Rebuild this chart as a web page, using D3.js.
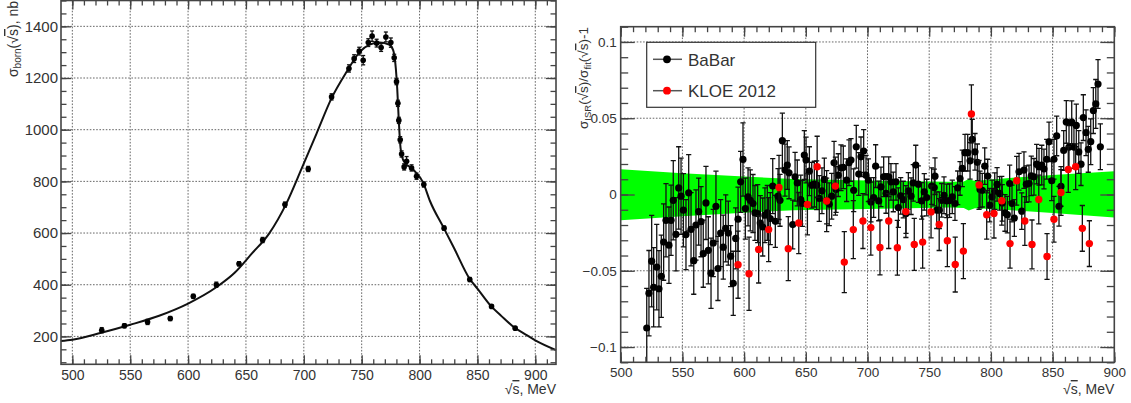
<!DOCTYPE html>
<html lang="en">
<head>
<meta charset="utf-8">
<title>Born cross section and ratio to fit</title>
<script src="https://cdn.jsdelivr.net/npm/d3@7"></script>
<style>
body { margin: 0; background: #fff; }
text { font-family: "Liberation Sans", Arial, Helvetica, sans-serif; fill: #333; }
</style>
</head>
<body>
<script>
// ---- left panel: sigma_born points [E MeV, sigma nb, error]
var bornPoints = [
  [525.4, 224, 10], [545.0, 241, 8], [565.0, 256, 10], [584.6, 269, 8], [604.5, 355, 8],
  [624.4, 400, 10], [644.0, 481, 8], [664.4, 573, 10], [683.7, 710, 10], [703.8, 848, 10],
  [724.0, 1127, 12], [739.0, 1237, 14], [743.5, 1275, 15], [747.9, 1304, 15], [751.3, 1269, 18],
  [755.7, 1337, 15], [759.0, 1362, 20], [762.9, 1335, 15], [766.8, 1318, 15], [770.9, 1359, 19],
  [775.2, 1337, 18], [778.1, 1278, 14], [780.1, 1186, 12], [781.3, 1102, 12], [782.1, 1036, 12],
  [783.3, 961, 12], [784.5, 906, 12], [786.7, 856, 12], [788.8, 878, 18], [793.1, 852, 12],
  [797.4, 820, 12], [803.7, 788, 10], [821.2, 619, 8], [843.4, 420, 8], [862.2, 316, 6],
  [882.6, 232, 6]
];
var fitE = [490, 500, 525, 550, 575, 600, 625, 640, 655, 670, 685, 698, 711, 724, 737, 748.4,
  756.9, 765.5, 773.7, 777.2, 779.5, 780.7, 782.1, 783.6, 786.4, 794.5, 803.1, 809, 821, 830,
  843, 850, 862, 870, 882.6, 890, 900, 918];
var fitSigma = [182, 187, 214, 245, 280, 327, 392, 445, 520, 598, 715, 848, 985, 1122, 1224, 1301,
  1329, 1337, 1329, 1308, 1237, 1160, 1032, 929, 878, 846, 795, 724, 619, 540,
  425, 385, 316, 282, 232, 212, 185, 147];

// ---- right panel: sigma_ISR/sigma_fit - 1, [E MeV, value, error]
var babar = [
  [521.1,-0.0875,0.026],[522.9,-0.0647,0.028],[525.1,-0.0437,0.030],[526.7,-0.0608,0.026],[529.2,-0.0476,0.028],
  [531.0,-0.0618,0.025],[532.9,-0.0536,0.027],[534.8,-0.0312,0.025],[536.7,-0.0169,0.024],[539.1,-0.0332,0.025],
  [540.8,-0.0169,0.023],[542.6,-0.0038,0.026],[544.8,-0.0261,0.024],[547.0,0.0043,0.027],[548.9,-0.0011,0.025],
  [550.8,-0.0103,0.024],[552.9,-0.0263,0.023],[555.1,0.0011,0.025],[557.0,-0.0228,0.024],[559.2,-0.0434,0.022],
  [561.0,-0.0200,0.023],[563.2,-0.0112,0.022],[565.1,-0.0178,0.023],[566.9,-0.0388,0.022],[569.1,-0.0055,0.024],
  [571.0,-0.0366,0.022],[573.2,-0.0516,0.023],[575.0,-0.0318,0.022],[577.2,-0.0077,0.023],[578.8,-0.0485,0.021],
  [581.0,-0.0253,0.022],[583.1,-0.0345,0.021],[585.1,-0.0222,0.022],[587.2,-0.0253,0.021],[589.1,-0.0404,0.020],
  [591.2,-0.0582,0.021],[593.2,-0.0288,0.020],[595.1,-0.0162,0.021],[597.2,0.0083,0.020],[599.1,0.0230,0.024],
  [601.0,-0.0092,0.020],[603.2,-0.0016,0.019],[605.0,-0.0038,0.020],[607.2,-0.0059,0.019],[608.8,-0.0121,0.018],
  [611.0,-0.0125,0.019],[613.1,-0.0187,0.018],[615.1,-0.0213,0.019],[616.9,-0.0136,0.018],[618.8,-0.0121,0.018],
  [621.2,-0.0158,0.017],[623.2,0.0055,0.018],[625.3,-0.0176,0.017],[627.5,-0.0011,0.018],[629.1,-0.0038,0.017],
  [631.0,0.0353,0.018],[633.1,0.0160,0.017],[635.0,0.0193,0.016],[636.4,0.0142,0.017],[639.4,-0.0197,0.016],
  [641.3,0.0116,0.016],[643.1,0.0076,0.015],[645.9,-0.0033,0.016],[647.2,-0.0059,0.015],[648.8,0.0259,0.016],
  [650.2,0.0226,0.015],[652.9,0.0153,0.016],[654.8,0.0061,0.015],[656.9,0.0068,0.015],[658.8,0.0061,0.016],
  [660.9,-0.0026,0.015],[663.1,0.0024,0.015],[665.0,0.0099,0.014],[666.9,-0.0042,0.015],[669.0,-0.0064,0.014],
  [671.0,-0.0011,0.015],[672.9,0.0208,0.014],[674.5,0.0033,0.015],[676.3,0.0127,0.014],[678.5,0.0175,0.015],
  [680.4,0.0178,0.014],[683.1,0.0094,0.014],[685.0,0.0208,0.015],[686.6,0.0226,0.014],[688.8,0.0028,0.014],
  [690.9,0.0313,0.014],[692.9,0.0134,0.014],[694.7,0.0247,0.013],[696.9,0.0285,0.014],[698.8,0.0127,0.013],
  [700.7,0.0094,0.014],[702.8,-0.0049,0.013],[705.0,-0.0020,0.013],[706.6,0.0186,0.014],[709.1,-0.0042,0.013],
  [710.9,0.0050,0.013],[713.1,0.0116,0.013],[715.0,0.0007,0.013],[717.2,0.0116,0.013],[719.0,0.0083,0.012],
  [720.9,0.0017,0.013],[723.1,0.0083,0.012],[725.0,-0.0086,0.013],[726.9,-0.0009,0.012],[729.0,-0.0033,0.012],
  [731.2,-0.0125,0.013],[733.1,0.0024,0.012],[735.3,-0.0011,0.012],[737.1,0.0076,0.012],[739.1,0.0193,0.013],
  [741.2,0.0068,0.012],[743.9,-0.0042,0.012],[746.0,0.0017,0.012],[748.0,-0.0020,0.012],[752.0,0.0055,0.012],
  [754.1,0.0046,0.012],[754.7,0.0120,0.012],[756.1,-0.0103,0.012],[758.2,-0.0103,0.012],[760.1,-0.0038,0.011],
  [762.0,-0.0005,0.012],[764.2,-0.0042,0.011],[766.5,-0.0040,0.011],[768.7,-0.0016,0.011],[770.9,-0.0059,0.011],
  [773.1,0.0044,0.011],[775.0,0.0105,0.011],[776.8,0.0171,0.012],[779.0,0.0274,0.012],[781.2,0.0274,0.012],
  [783.1,0.0221,0.012],[784.9,0.0362,0.013],[787.1,0.0280,0.012],[789.0,0.0211,0.012],[791.2,0.0033,0.012],
  [793.0,0.0028,0.011],[795.0,0.0186,0.012],[797.4,0.0121,0.011],[799.0,-0.0070,0.011],[800.9,-0.0016,0.011],
  [803.1,0.0022,0.012],[805.0,0.0066,0.011],[807.1,0.0007,0.011],[809.2,-0.0055,0.012],[811.4,-0.0121,0.012],
  [813.3,-0.0132,0.012],[815.2,0.0072,0.012],[817.1,-0.0059,0.012],[819.0,-0.0154,0.012],[822.8,0.0149,0.012],
  [825.0,-0.0109,0.012],[826.8,0.0160,0.012],[828.7,0.0068,0.012],[830.9,0.0072,0.012],[832.7,0.0122,0.013],
  [834.9,0.0116,0.012],[837.1,0.0199,0.013],[839.0,0.0182,0.012],[841.2,0.0193,0.013],[843.0,0.0167,0.013],
  [845.2,0.0231,0.013],[847.1,0.0345,0.013],[849.3,0.0090,0.013],[851.1,0.0231,0.013],[853.3,0.0384,0.013],
  [855.2,-0.0077,0.013],[856.8,0.0053,0.013],[859.0,0.0289,0.013],[861.1,0.0476,0.014],[863.3,0.0311,0.014],
  [865.5,0.0474,0.014],[867.3,0.0311,0.014],[869.2,0.0453,0.014],[871.2,0.0279,0.014],[873.0,0.0199,0.014],
  [874.9,0.0504,0.015],[877.1,0.0405,0.015],[878.9,0.0296,0.015],[880.9,0.0346,0.015],[883.0,0.0550,0.015],
  [885.0,0.0594,0.016],[886.8,0.0724,0.016],[888.7,0.0313,0.015]
];
var kloe = [
  [595.1,-0.0460,0.022],[604.0,-0.0520,0.024],[611.8,-0.0360,0.022],[619.9,-0.0230,0.021],[628.3,0.0046,0.021],
  [635.8,-0.0355,0.021],[644.3,-0.0187,0.020],[651.3,-0.0065,0.020],[659.2,0.0182,0.020],[666.9,-0.0043,0.020],
  [674.0,0.0055,0.019],[681.2,-0.0443,0.020],[688.5,-0.0230,0.019],[696.3,-0.0174,0.018],[702.7,-0.0217,0.018],
  [710.1,-0.0347,0.018],[717.2,-0.0174,0.018],[724.2,-0.0349,0.018],[731.1,-0.0112,0.017],[737.9,-0.0327,0.017],
  [744.7,-0.0312,0.017],[751.5,-0.0114,0.017],[758.1,-0.0197,0.017],[764.7,-0.0303,0.017],[771.1,-0.0459,0.018],
  [777.7,-0.0371,0.018],[784.2,0.0528,0.019],[790.4,0.0063,0.016],[796.6,-0.0133,0.016],[802.5,-0.0125,0.016],
  [808.8,-0.0041,0.016],[815.5,-0.0322,0.016],[820.9,0.0090,0.016],[827.5,-0.0174,0.016],[833.3,-0.0327,0.016],
  [838.8,-0.0033,0.016],[845.5,-0.0406,0.015],[851.1,-0.0162,0.015],[856.8,0.0013,0.015],[862.7,0.0164,0.015],
  [868.7,0.0182,0.015],[874.1,-0.0222,0.015],[879.8,-0.0322,0.015]
];
// fit uncertainty band
var bandE  = [500, 550, 600, 640, 700, 766, 778, 782, 787, 800, 820, 850, 900];
var bandHi = [0.0165, 0.0140, 0.0118, 0.0102, 0.0092, 0.0083, 0.0085, 0.0101, 0.0088, 0.0098, 0.0112, 0.0128, 0.0153];
var bandLo = [-0.0169, -0.0143, -0.0120, -0.0103, -0.0095, -0.0085, -0.0088, -0.0105, -0.0090, -0.0095, -0.0105, -0.0122, -0.0151];

var leftXTicks = [500, 550, 600, 650, 700, 750, 800, 850, 900];
var leftYTicks = [200, 400, 600, 800, 1000, 1200, 1400];
var rightXTicks = [500, 550, 600, 650, 700, 750, 800, 850, 900];
var rightYTicks = [-0.1, -0.05, 0, 0.05, 0.1];
var rightYLabels = ["\u22120.1", "\u22120.05", "0", "0.05", "0.1"];
var legendNames = ["BaBar", "KLOE 2012"];
var legendColors = ["#000", "#ff0000"];

var width = 1131, height = 403;
var svg = d3.select("body").append("svg")
    .attr("width", width)
    .attr("height", height);

// scales
var xL = d3.scaleLinear().domain([490.2, 917.9]).range([61, 556]);
var yL = d3.scaleLinear().domain([92, 1500]).range([364.3, 0.5]);
var xR = d3.scaleLinear().domain([500, 900]).range([620.7, 1114.3]);
var yR = d3.scaleLinear().domain([-0.11, 0.11]).range([362.3, 26.7]);

function drawGrid(x, y, xt, yt) {
    var g = svg.append("g").attr("stroke", "#666").attr("stroke-dasharray", "1.6,1.6").attr("stroke-width", 1);
    var xr = x.range(), yr = y.range();
    g.selectAll(".vx").data(xt.filter(function (d) { return x(d) > xr[0] + 2 && x(d) < xr[1] - 2; }))
        .enter().append("line")
        .attr("x1", function (d) { return x(d); }).attr("x2", function (d) { return x(d); })
        .attr("y1", yr[0]).attr("y2", yr[1]);
    g.selectAll(".hy").data(yt.filter(function (d) { return y(d) < yr[0] - 2 && y(d) > yr[1] + 2; }))
        .enter().append("line")
        .attr("y1", function (d) { return y(d); }).attr("y2", function (d) { return y(d); })
        .attr("x1", xr[0]).attr("x2", xr[1]);
}

function axisGroup(axis, tx, ty, fontSize) {
    var g = svg.append("g").attr("transform", "translate(" + tx + "," + ty + ")")
        .call(axis);
    g.select(".domain").remove();
    g.attr("color", "#444").attr("font-size", fontSize);
    g.selectAll("line").attr("stroke-width", 1.3);
    return g;
}

function drawAxes(x, y, o) {
    var xr = x.range(), yr = y.range();
    // bottom
    axisGroup(d3.axisBottom(x).tickValues(o.xMinor).tickSize(-o.xMinLen).tickFormat(""), 0, yr[0]);
    axisGroup(d3.axisBottom(x).tickValues(o.xMajor).tickSize(-o.xMajLen).tickPadding(o.xPad)
        .tickFormat(d3.format("d")), 0, yr[0], o.font);
    // top
    axisGroup(d3.axisTop(x).tickValues(o.xMinor).tickSize(-o.xMinLen).tickFormat(""), 0, yr[1]);
    axisGroup(d3.axisTop(x).tickValues(o.xMajor).tickSize(-o.xMajLen).tickFormat(""), 0, yr[1]);
    // left
    axisGroup(d3.axisLeft(y).tickValues(o.yMinor).tickSize(-o.yMinLen).tickFormat(""), xr[0], 0);
    axisGroup(d3.axisLeft(y).tickValues(o.yMajor).tickSize(-o.yMajLen).tickPadding(o.yPad)
        .tickFormat(function (d, i) { return o.yLabels[i]; }), xr[0], 0, o.yFont);
    // right
    axisGroup(d3.axisRight(y).tickValues(o.yMinor).tickSize(-o.yMinLen).tickFormat(""), xr[1], 0);
    axisGroup(d3.axisRight(y).tickValues(o.yMajor).tickSize(-o.yMajLen).tickFormat(""), xr[1], 0);
    // frame
    svg.append("rect")
        .attr("x", xr[0]).attr("y", yr[1])
        .attr("width", xr[1] - xr[0]).attr("height", yr[0] - yr[1])
        .attr("fill", "none").attr("stroke", "#444").attr("stroke-width", 1.6);
}

function errorBars(g, data, x, y, cap, width) {
    var eb = g.append("g").attr("stroke", "#111").attr("stroke-width", width);
    eb.selectAll(".v").data(data).enter().append("line")
        .attr("x1", function (d) { return x(d[0]); }).attr("x2", function (d) { return x(d[0]); })
        .attr("y1", function (d) { return y(d[1] - d[2]); }).attr("y2", function (d) { return y(d[1] + d[2]); });
    [1, -1].forEach(function (s) {
        eb.selectAll(".c" + s).data(data).enter().append("line")
            .attr("x1", function (d) { return x(d[0]) - cap; }).attr("x2", function (d) { return x(d[0]) + cap; })
            .attr("y1", function (d) { return y(d[1] + s * d[2]); }).attr("y2", function (d) { return y(d[1] + s * d[2]); });
    });
}

// ================= left panel =================
drawGrid(xL, yL, leftXTicks, leftYTicks);

var fitLine = d3.line()
    .x(function (d) { return xL(d[0]); })
    .y(function (d) { return yL(d[1]); })
    .curve(d3.curveMonotoneX);
svg.append("path")
    .datum(fitE.map(function (e, i) { return [e, fitSigma[i]]; }))
    .attr("d", fitLine)
    .attr("fill", "none")
    .attr("stroke", "#111")
    .attr("stroke-width", 2);

var gL = svg.append("g");
errorBars(gL, bornPoints, xL, yL, 2, 1.3);
gL.selectAll("circle").data(bornPoints).enter().append("circle")
    .attr("cx", function (d) { return xL(d[0]); })
    .attr("cy", function (d) { return yL(d[1]); })
    .attr("r", 2.8)
    .attr("fill", "#000");

drawAxes(xL, yL, {
    xMajor: leftXTicks, xMinor: d3.range(500, 911, 10), xMajLen: 9, xMinLen: 5, xPad: 6, font: 14,
    yMajor: leftYTicks, yMinor: d3.range(100, 1501, 50), yMajLen: 10, yMinLen: 5.5, yPad: 3, yFont: 15,
    yLabels: leftYTicks.map(String)
});

// axis titles, left
var tL = svg.append("text")
    .attr("transform", "translate(18,1) rotate(-90)")
    .attr("text-anchor", "end")
    .attr("font-size", 14);
tL.append("tspan").text("\u03c3");
tL.append("tspan").attr("font-size", 10).attr("dy", 3).text("born");
tL.append("tspan").attr("dy", -3).text("(\u221a");
tL.append("tspan").style("text-decoration", "overline").text("s");
tL.append("tspan").text("), nb");

function energyTitle(xRight, yBase) {
    var t = svg.append("text")
        .attr("x", xRight).attr("y", yBase)
        .attr("text-anchor", "end")
        .attr("font-size", 14);
    t.append("tspan").text("\u221a");
    t.append("tspan").style("text-decoration", "overline").text("s");
    t.append("tspan").text(", MeV");
}
energyTitle(556, 394);

// ================= right panel =================
drawGrid(xR, yR, rightXTicks, rightYTicks);

svg.append("clipPath").attr("id", "clipR").append("rect")
    .attr("x", xR.range()[0]).attr("y", yR.range()[1])
    .attr("width", xR.range()[1] - xR.range()[0]).attr("height", yR.range()[0] - yR.range()[1]);

var gR = svg.append("g").attr("clip-path", "url(#clipR)");

var band = d3.area()
    .x(function (d) { return xR(d[0]); })
    .y0(function (d) { return yR(d[2]); })
    .y1(function (d) { return yR(d[1]); });
gR.append("path")
    .datum(bandE.map(function (e, i) { return [e, bandHi[i], bandLo[i]]; }))
    .attr("d", band)
    .attr("fill", "#00ff00");

errorBars(gR, babar, xR, yR, 2.6, 1.3);
gR.append("g").selectAll("circle").data(babar).enter().append("circle")
    .attr("cx", function (d) { return xR(d[0]); })
    .attr("cy", function (d) { return yR(d[1]); })
    .attr("r", 3.6)
    .attr("fill", "#000");

errorBars(gR, kloe, xR, yR, 2.6, 1.3);
gR.append("g").selectAll("circle").data(kloe).enter().append("circle")
    .attr("cx", function (d) { return xR(d[0]); })
    .attr("cy", function (d) { return yR(d[1]); })
    .attr("r", 3.7)
    .attr("fill", "#ff0000");

drawAxes(xR, yR, {
    xMajor: rightXTicks, xMinor: d3.range(500, 901, 10), xMajLen: 10, xMinLen: 5.5, xPad: 5, font: 13.5,
    yMajor: rightYTicks, yMinor: d3.range(-11, 12).map(function (i) { return i / 100; }),
    yMajLen: 14, yMinLen: 7.5, yPad: 4, yFont: 13.5,
    yLabels: rightYLabels
});

// legend
var lg = svg.append("g");
lg.append("rect")
    .attr("x", 646.7).attr("y", 42.3)
    .attr("width", 169).attr("height", 65)
    .attr("fill", "#fff").attr("stroke", "#333").attr("stroke-width", 1.2);
legendNames.forEach(function (name, i) {
    var cy = 59.3 + i * 31.4;
    lg.append("line")
        .attr("x1", 653).attr("x2", 682).attr("y1", cy).attr("y2", cy)
        .attr("stroke", "#555").attr("stroke-width", 1.5);
    lg.append("circle")
        .attr("cx", 667).attr("cy", cy).attr("r", 3.9)
        .attr("fill", legendColors[i]);
    lg.append("text")
        .attr("x", 688).attr("y", cy + 6.3)
        .attr("font-size", 17)
        .text(name);
});

// axis titles, right
var tR = svg.append("text")
    .attr("transform", "translate(588,27) rotate(-90)")
    .attr("text-anchor", "end")
    .attr("font-size", 13.5);
tR.append("tspan").text("\u03c3");
tR.append("tspan").attr("font-size", 9.5).attr("dy", 3).text("ISR");
tR.append("tspan").attr("dy", -3).text("(\u221a");
tR.append("tspan").style("text-decoration", "overline").text("s");
tR.append("tspan").text(")/\u03c3");
tR.append("tspan").attr("font-size", 9.5).attr("dy", 3).text("fit");
tR.append("tspan").attr("dy", -3).text("(\u221a");
tR.append("tspan").style("text-decoration", "overline").text("s");
tR.append("tspan").text(")-1");

energyTitle(1114.3, 394);
</script>
</body>
</html>
